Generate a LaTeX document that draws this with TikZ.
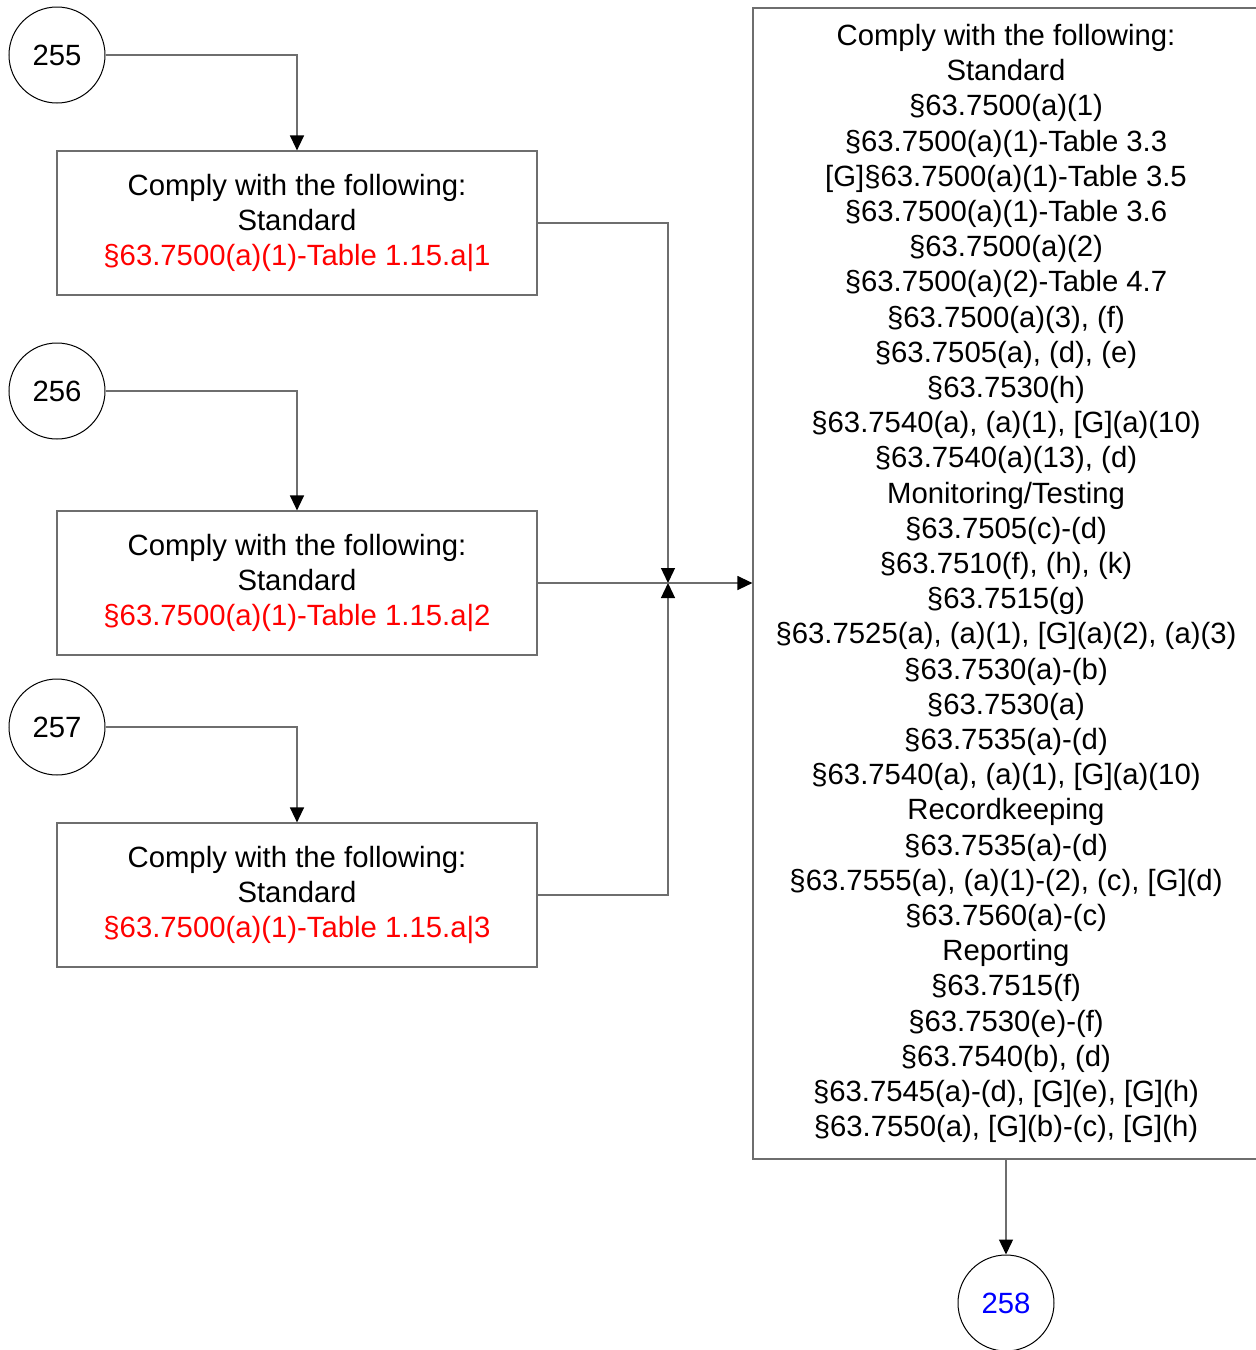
\documentclass[tikz,border=0pt]{standalone}
\usepackage{fontspec}
\setmainfont{Liberation Sans}
\usetikzlibrary{arrows.meta}
\definecolor{linegray}{RGB}{110,110,110}
\definecolor{refred}{RGB}{255,0,0}
\definecolor{refblue}{RGB}{0,0,255}
\tikzset{
  txt/.style={font=\fontsize{14.65}{17.6}\selectfont, align=center},
  circ/.style={circle, draw=black, line width=0.5pt, minimum size=48pt, inner sep=0pt, txt},
  stdbox/.style={rectangle, draw=linegray, line width=0.6pt, minimum width=240pt, minimum height=72pt, inner sep=0pt, txt},
  conn/.style={draw=linegray, line width=0.65pt, -{Triangle[length=7.5pt,width=7pt,color=black]}},
}
\begin{document}
\begin{tikzpicture}[x=0.5pt,y=-0.5pt]
\useasboundingbox (0,0) rectangle (1255,1350);
\node[circ] (c255) at (57,55) {255};
\node[circ] (c256) at (57,391) {256};
\node[circ] (c257) at (57,727) {257};
\node[stdbox] (b1) at (297,223) {Comply with the following:\\Standard\\\textcolor{refred}{§63.7500(a)(1)-Table 1.15.a|1}};
\node[stdbox] (b2) at (297,583) {Comply with the following:\\Standard\\\textcolor{refred}{§63.7500(a)(1)-Table 1.15.a|2}};
\node[stdbox] (b3) at (297,895) {Comply with the following:\\Standard\\\textcolor{refred}{§63.7500(a)(1)-Table 1.15.a|3}};
\node[stdbox, minimum width=253pt, minimum height=575.5pt] (R) at (1006,583.5) {Comply with the following:\\Standard\\§63.7500(a)(1)\\§63.7500(a)(1)-Table 3.3\\{[G]}§63.7500(a)(1)-Table 3.5\\§63.7500(a)(1)-Table 3.6\\§63.7500(a)(2)\\§63.7500(a)(2)-Table 4.7\\§63.7500(a)(3), (f)\\§63.7505(a), (d), (e)\\§63.7530(h)\\§63.7540(a), (a)(1), [G](a)(10)\\§63.7540(a)(13), (d)\\Monitoring/Testing\\§63.7505(c)-(d)\\§63.7510(f), (h), (k)\\§63.7515(g)\\§63.7525(a), (a)(1), [G](a)(2), (a)(3)\\§63.7530(a)-(b)\\§63.7530(a)\\§63.7535(a)-(d)\\§63.7540(a), (a)(1), [G](a)(10)\\Recordkeeping\\§63.7535(a)-(d)\\§63.7555(a), (a)(1)-(2), (c), [G](d)\\§63.7560(a)-(c)\\Reporting\\§63.7515(f)\\§63.7530(e)-(f)\\§63.7540(b), (d)\\§63.7545(a)-(d), [G](e), [G](h)\\§63.7550(a), [G](b)-(c), [G](h)};
\node[circ] (c258) at (1006,1303) {\textcolor{refblue}{258}};
\coordinate (j) at (668,583);
\draw[conn] (c255.east) -| (b1.north);
\draw[conn] (c256.east) -| (b2.north);
\draw[conn] (c257.east) -| (b3.north);
\draw[conn] (b1.east) -| (j);
\draw[conn] (b3.east) -| (j);
\draw[conn] (b2.east) -- (R.west |- b2.east);
\draw[conn] (R.south) -- (c258.north);
\end{tikzpicture}
\end{document}
